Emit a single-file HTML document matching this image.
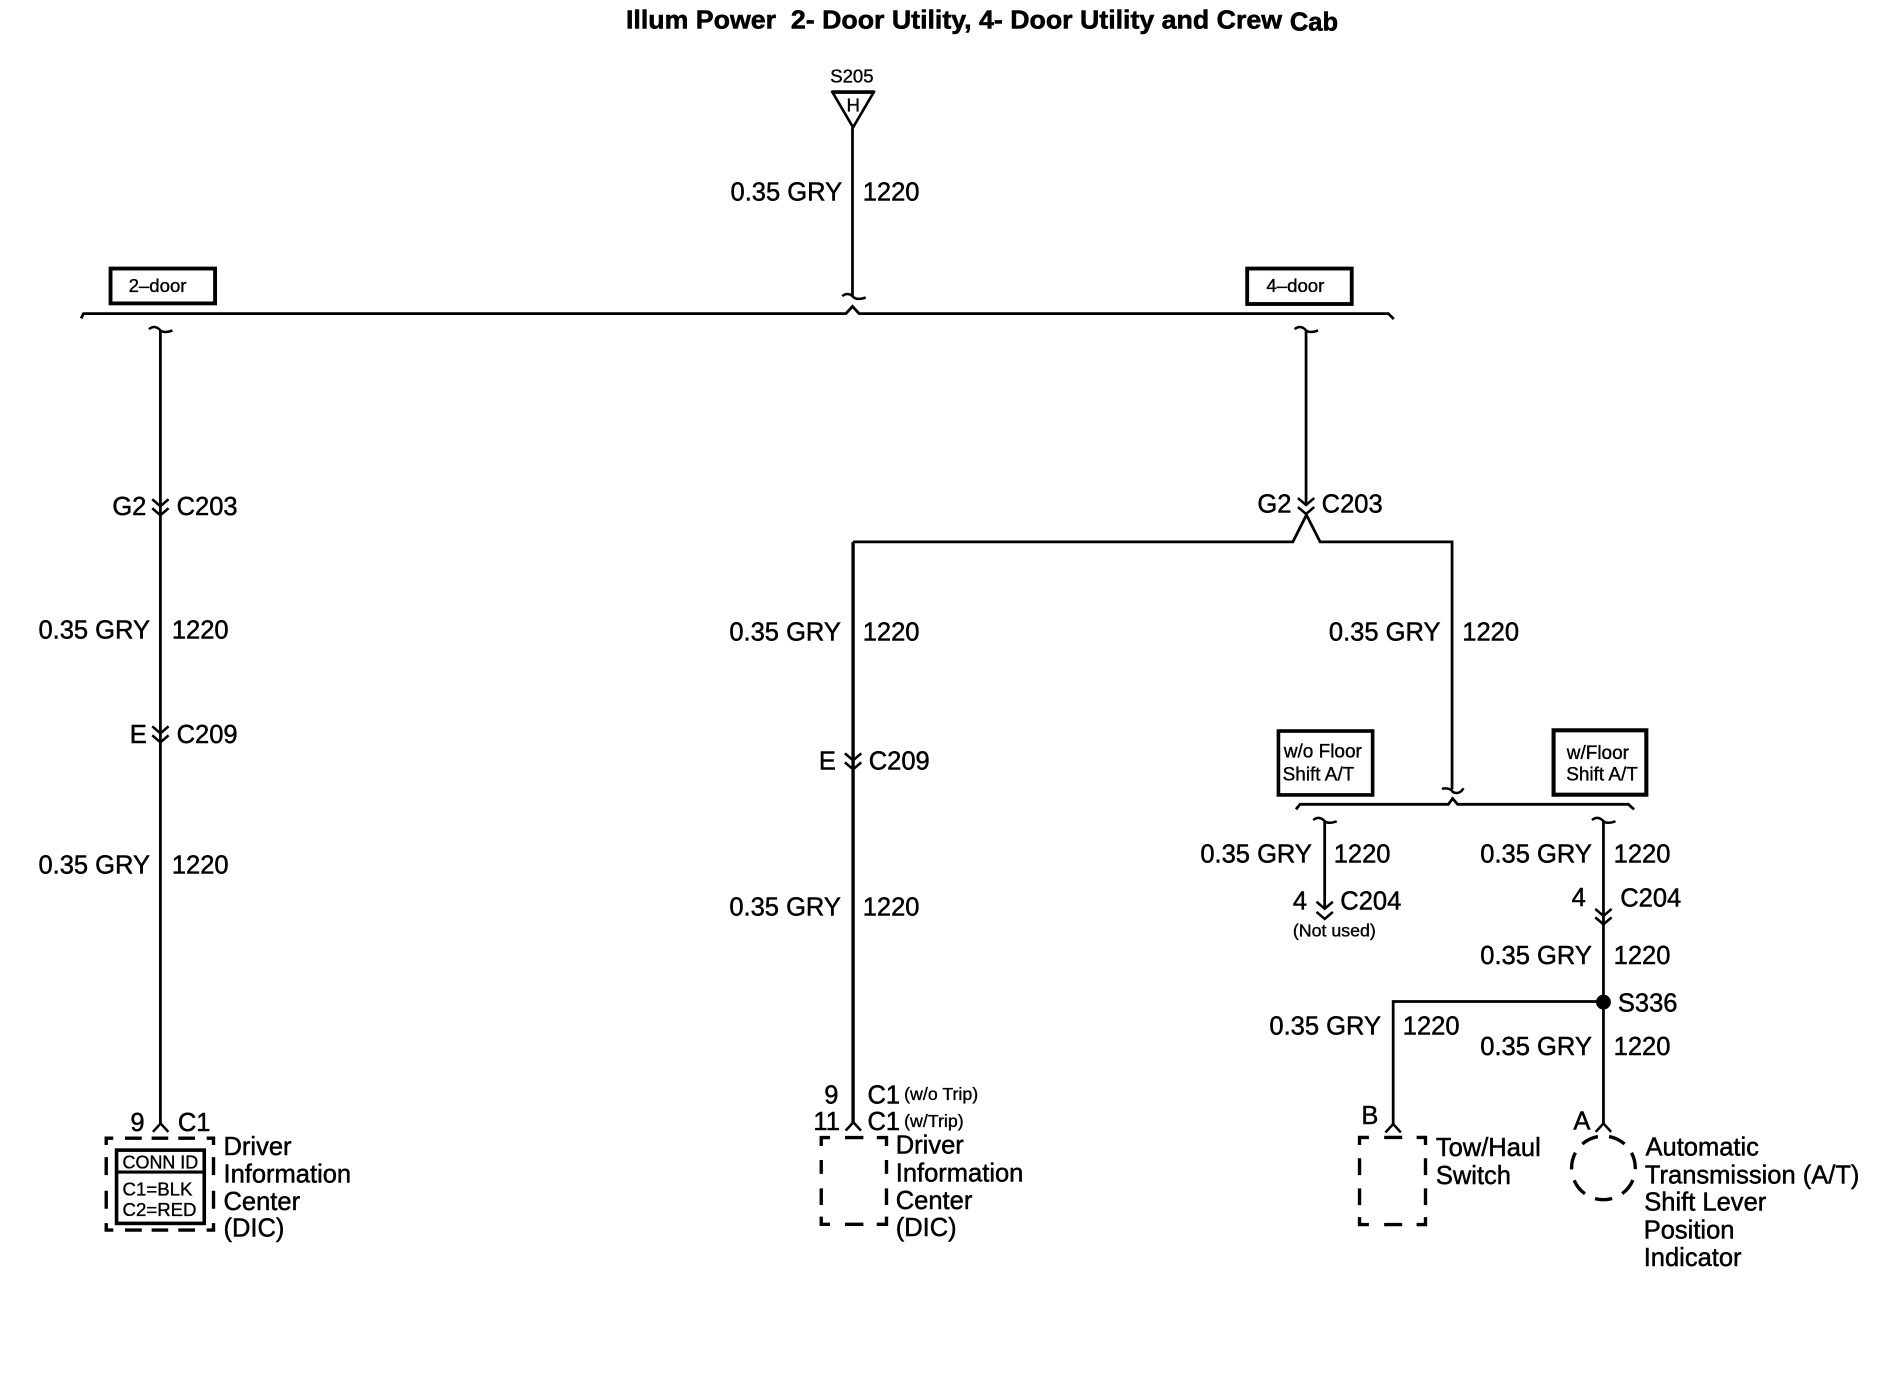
<!DOCTYPE html>
<html lang="en">
<head>
<meta charset="utf-8">
<title>Illum Power</title>
<style>
html,body{margin:0;padding:0;background:#fff;}
svg{display:block;}
text{font-family:"Liberation Sans",Arial,sans-serif;fill:#000;stroke:#000;stroke-width:.4;font-size:21.25px;}
.s15{font-size:15.5px;stroke-width:.3;}
.s16{font-size:15.8px;stroke-width:.3;}
.s14{font-size:14.8px;stroke-width:.3;}
.t{font-weight:bold;stroke-width:.45;}
.w{fill:none;stroke:#000;stroke-width:2.3;}
.th{fill:none;stroke:#000;stroke-width:2.1;}
.b{fill:#fff;stroke:#000;stroke-width:3.2;}
.d{fill:none;stroke:#000;stroke-width:2.8;}
</style>
</head>
<body>
<svg xmlns="http://www.w3.org/2000/svg" width="1884" height="1376" viewBox="0 0 1568 1145.2">
<rect x="0" y="0" width="1568" height="1145.2" fill="#fff"/>
<defs>
<path id="ti" class="th" d="M-9.5,-1 C-6,-4 -2.5,-3 0,0 C2.5,2 6,1.5 10,0"/>
<path id="sm" class="th" d="M-9,-1.5 C-4,-2.5 -1,-1 0,1 C3,3 7,2 9,-2"/>
<path id="ch" class="th" d="M-6.8,0 L0,5.8 L6.8,0"/>
<path id="rc" class="th" d="M-6.4,7 L0,0 L6.4,7"/>
</defs>

<!-- title -->
<text class="t" x="521" y="23.6" textLength="546" lengthAdjust="spacingAndGlyphs" xml:space="preserve">Illum Power  2- Door Utility, 4- Door Utility and Crew</text>
<text class="t" x="1073.5" y="25.5">Cab</text>

<!-- S205 -->
<text class="s15" x="691" y="68.5" textLength="36" lengthAdjust="spacingAndGlyphs">S205</text>
<path d="M693,77 L727,77 L710,106 Z" fill="#fff" stroke="#000" stroke-width="2.2"/>
<path d="M692,76.5 L728,76.5" stroke="#000" stroke-width="2.8"/>
<text class="s15" x="704.5" y="93">H</text>
<path class="w" d="M709.5,106 L709.5,247"/>
<use href="#ti" x="710.5" y="247.5"/>
<text x="608" y="167">0.35 GRY</text>
<text x="718" y="167">1220</text>

<!-- top bus -->
<path class="w" d="M67.5,265 L69.5,261 L704,261 L709.5,255 L715,261 L1155.5,261 L1160,265.5"/>
<rect class="b" x="92" y="223.5" width="87" height="29"/>
<text class="s15" x="107" y="243">2–door</text>
<rect class="b" x="1038" y="223.5" width="87" height="29.5"/>
<text class="s15" x="1054" y="243">4–door</text>

<!-- left column -->
<use href="#ti" x="133.5" y="275"/>
<path class="w" d="M133.5,275 L133.5,935"/>
<use href="#ch" x="133.5" y="415.5"/>
<use href="#ch" x="133.5" y="423"/>
<text x="93.5" y="428.5">G2</text>
<text x="147" y="428.5">C203</text>
<text x="32" y="531.5">0.35 GRY</text>
<text x="143" y="531.5">1220</text>
<use href="#ch" x="133.5" y="604.5"/>
<use href="#ch" x="133.5" y="612"/>
<text x="108" y="618.5">E</text>
<text x="147" y="618.5">C209</text>
<text x="32" y="727">0.35 GRY</text>
<text x="143" y="727">1220</text>
<text x="108.5" y="941.5">9</text>
<text x="148" y="941.5">C1</text>
<use href="#rc" x="133.7" y="935"/>
<path class="d" d="M88.4,953 V947.3 H94.3 M104,947.3 H118 M126.2,947.3 H140 M148.4,947.3 H162.3 M172,947.3 H177.7 V953
M88.4,963 V978 M88.4,991 V1006 M177.7,963 V978 M177.7,991 V1006
M88.4,1018 V1023.7 H94.3 M104,1023.7 H118 M126.2,1023.7 H140 M148.4,1023.7 H162.3 M172,1023.7 H177.7 V1018"/>
<rect x="97" y="957.2" width="73" height="61" fill="#fff" stroke="#000" stroke-width="3"/>
<path d="M97,975.5 H170" stroke="#000" stroke-width="2.6"/>
<text class="s15" x="102" y="972.4" textLength="63" lengthAdjust="spacingAndGlyphs">CONN ID</text>
<text class="s15" x="102" y="995">C1=BLK</text>
<text class="s15" x="102" y="1012">C2=RED</text>
<text x="186" y="961.3">Driver</text>
<text x="186" y="984">Information</text>
<text x="186" y="1007">Center</text>
<text x="186" y="1029.3">(DIC)</text>

<!-- right drop from 4-door -->
<use href="#ti" x="1087" y="275"/>
<path class="w" d="M1087,275 L1087,420"/>
<use href="#ch" x="1087" y="414.5"/>
<use href="#ch" x="1087" y="422"/>
<text x="1046.5" y="426.5">G2</text>
<text x="1100" y="426.5">C203</text>
<path class="w" d="M710,451 L1076,451 L1087.3,428.6 L1098.7,451 L1208.5,451 L1208.5,657"/>

<!-- middle column -->
<path d="M710,451 L710,934" fill="none" stroke="#000" stroke-width="2.8"/>
<text x="607" y="533">0.35 GRY</text>
<text x="718" y="533">1220</text>
<use href="#ch" x="710" y="627"/>
<use href="#ch" x="710" y="634.5"/>
<text x="681.5" y="640.5">E</text>
<text x="723" y="640.5">C209</text>
<text x="607" y="762">0.35 GRY</text>
<text x="718" y="762">1220</text>
<text x="686" y="918.3">9</text>
<text x="722" y="918.3">C1</text>
<text class="s14" x="752.5" y="915.5">(w/o Trip)</text>
<text x="677" y="940.3">11</text>
<text x="722" y="940.3">C1</text>
<text class="s14" x="752.5" y="938">(w/Trip)</text>
<use href="#rc" x="710.2" y="934"/>
<path class="d" d="M683.5,953.8 V946.8 H690.8 M703.3,946.8 H718.6 M729.7,946.8 H737.8 V953.8
M683.5,965.4 V977 M683.5,989 V1002.9 M737.8,965.4 V977 M737.8,989 V1002.9
M683.5,1012.6 V1019 H690.8 M703.3,1019 H718.6 M729.7,1019 H737.8 V1012.6"/>
<text x="745.5" y="960">Driver</text>
<text x="745.5" y="983.5">Information</text>
<text x="745.5" y="1006.2">Center</text>
<text x="745.5" y="1028.7">(DIC)</text>

<!-- right column -->
<text x="1106" y="533">0.35 GRY</text>
<text x="1217" y="533">1220</text>
<rect x="1064" y="608.4" width="78.4" height="53.2" fill="#fff" stroke="#000" stroke-width="3"/>
<text class="s16" x="1068.5" y="630.6">w/o Floor</text>
<text class="s16" x="1067.5" y="649.7">Shift A/T</text>
<rect x="1293" y="607.8" width="77.2" height="53.6" fill="#fff" stroke="#000" stroke-width="3.4"/>
<text class="s16" x="1304" y="631.7">w/Floor</text>
<text class="s16" x="1303.5" y="649.7">Shift A/T</text>
<use href="#sm" x="1209" y="658"/>
<path class="w" d="M1078.6,673.6 L1082,669.4 L1205.4,669.4 L1209,664.6 L1213.2,669.4 L1355.2,669.4 L1360,673.6"/>

<use href="#ti" x="1102.5" y="683.5"/>
<path class="w" d="M1102.5,683.5 L1102.5,755"/>
<use href="#ch" x="1102.5" y="750.5"/>
<use href="#ch" x="1102.5" y="759"/>
<text x="999" y="718">0.35 GRY</text>
<text x="1110" y="718">1220</text>
<text x="1076" y="757">4</text>
<text x="1115.5" y="757">C204</text>
<text class="s14" x="1076" y="779.5" textLength="69" lengthAdjust="spacingAndGlyphs">(Not used)</text>

<use href="#ti" x="1334.5" y="683.5"/>
<path class="w" d="M1334.5,683.5 L1334.5,935"/>
<use href="#ch" x="1334.5" y="756.5"/>
<use href="#ch" x="1334.5" y="763.5"/>
<text x="1232" y="718">0.35 GRY</text>
<text x="1343" y="718">1220</text>
<text x="1308" y="754">4</text>
<text x="1348.5" y="754.5">C204</text>
<text x="1232" y="802.3">0.35 GRY</text>
<text x="1343" y="802.3">1220</text>
<circle cx="1334.5" cy="834" r="6.2" fill="#000"/>
<text x="1346.5" y="842">S336</text>
<path class="w" d="M1334,833.5 L1159.5,833.5 L1159.5,936"/>
<text x="1056.5" y="861">0.35 GRY</text>
<text x="1167.5" y="861">1220</text>
<text x="1232" y="878">0.35 GRY</text>
<text x="1343" y="878">1220</text>

<text x="1133" y="935.5">B</text>
<use href="#rc" x="1159.5" y="935.5"/>
<path class="d" d="M1131.5,953 V946.7 H1139.3 M1152,946.7 H1167 M1179,946.7 H1186.4 V953
M1131.5,964 V978 M1131.5,989 V1003 M1186.4,964 V978 M1186.4,989 V1003
M1131.5,1013 V1019.2 H1139.3 M1152,1019.2 H1167 M1179,1019.2 H1186.4 V1013"/>
<text x="1195" y="962">Tow/Haul</text>
<text x="1195" y="985.4">Switch</text>

<text x="1309.5" y="940">A</text>
<use href="#rc" x="1334.5" y="935"/>
<circle cx="1334.5" cy="972" r="26.5" fill="none" stroke="#000" stroke-width="2.8" stroke-dasharray="14.5 9.29" stroke-dashoffset="-10.4"/>
<text x="1369.5" y="961.8">Automatic</text>
<text x="1369" y="984.8">Transmission (A/T)</text>
<text x="1368.5" y="1007.6">Shift Lever</text>
<text x="1368" y="1030.6">Position</text>
<text x="1368" y="1053.6">Indicator</text>
</svg>
</body>
</html>
